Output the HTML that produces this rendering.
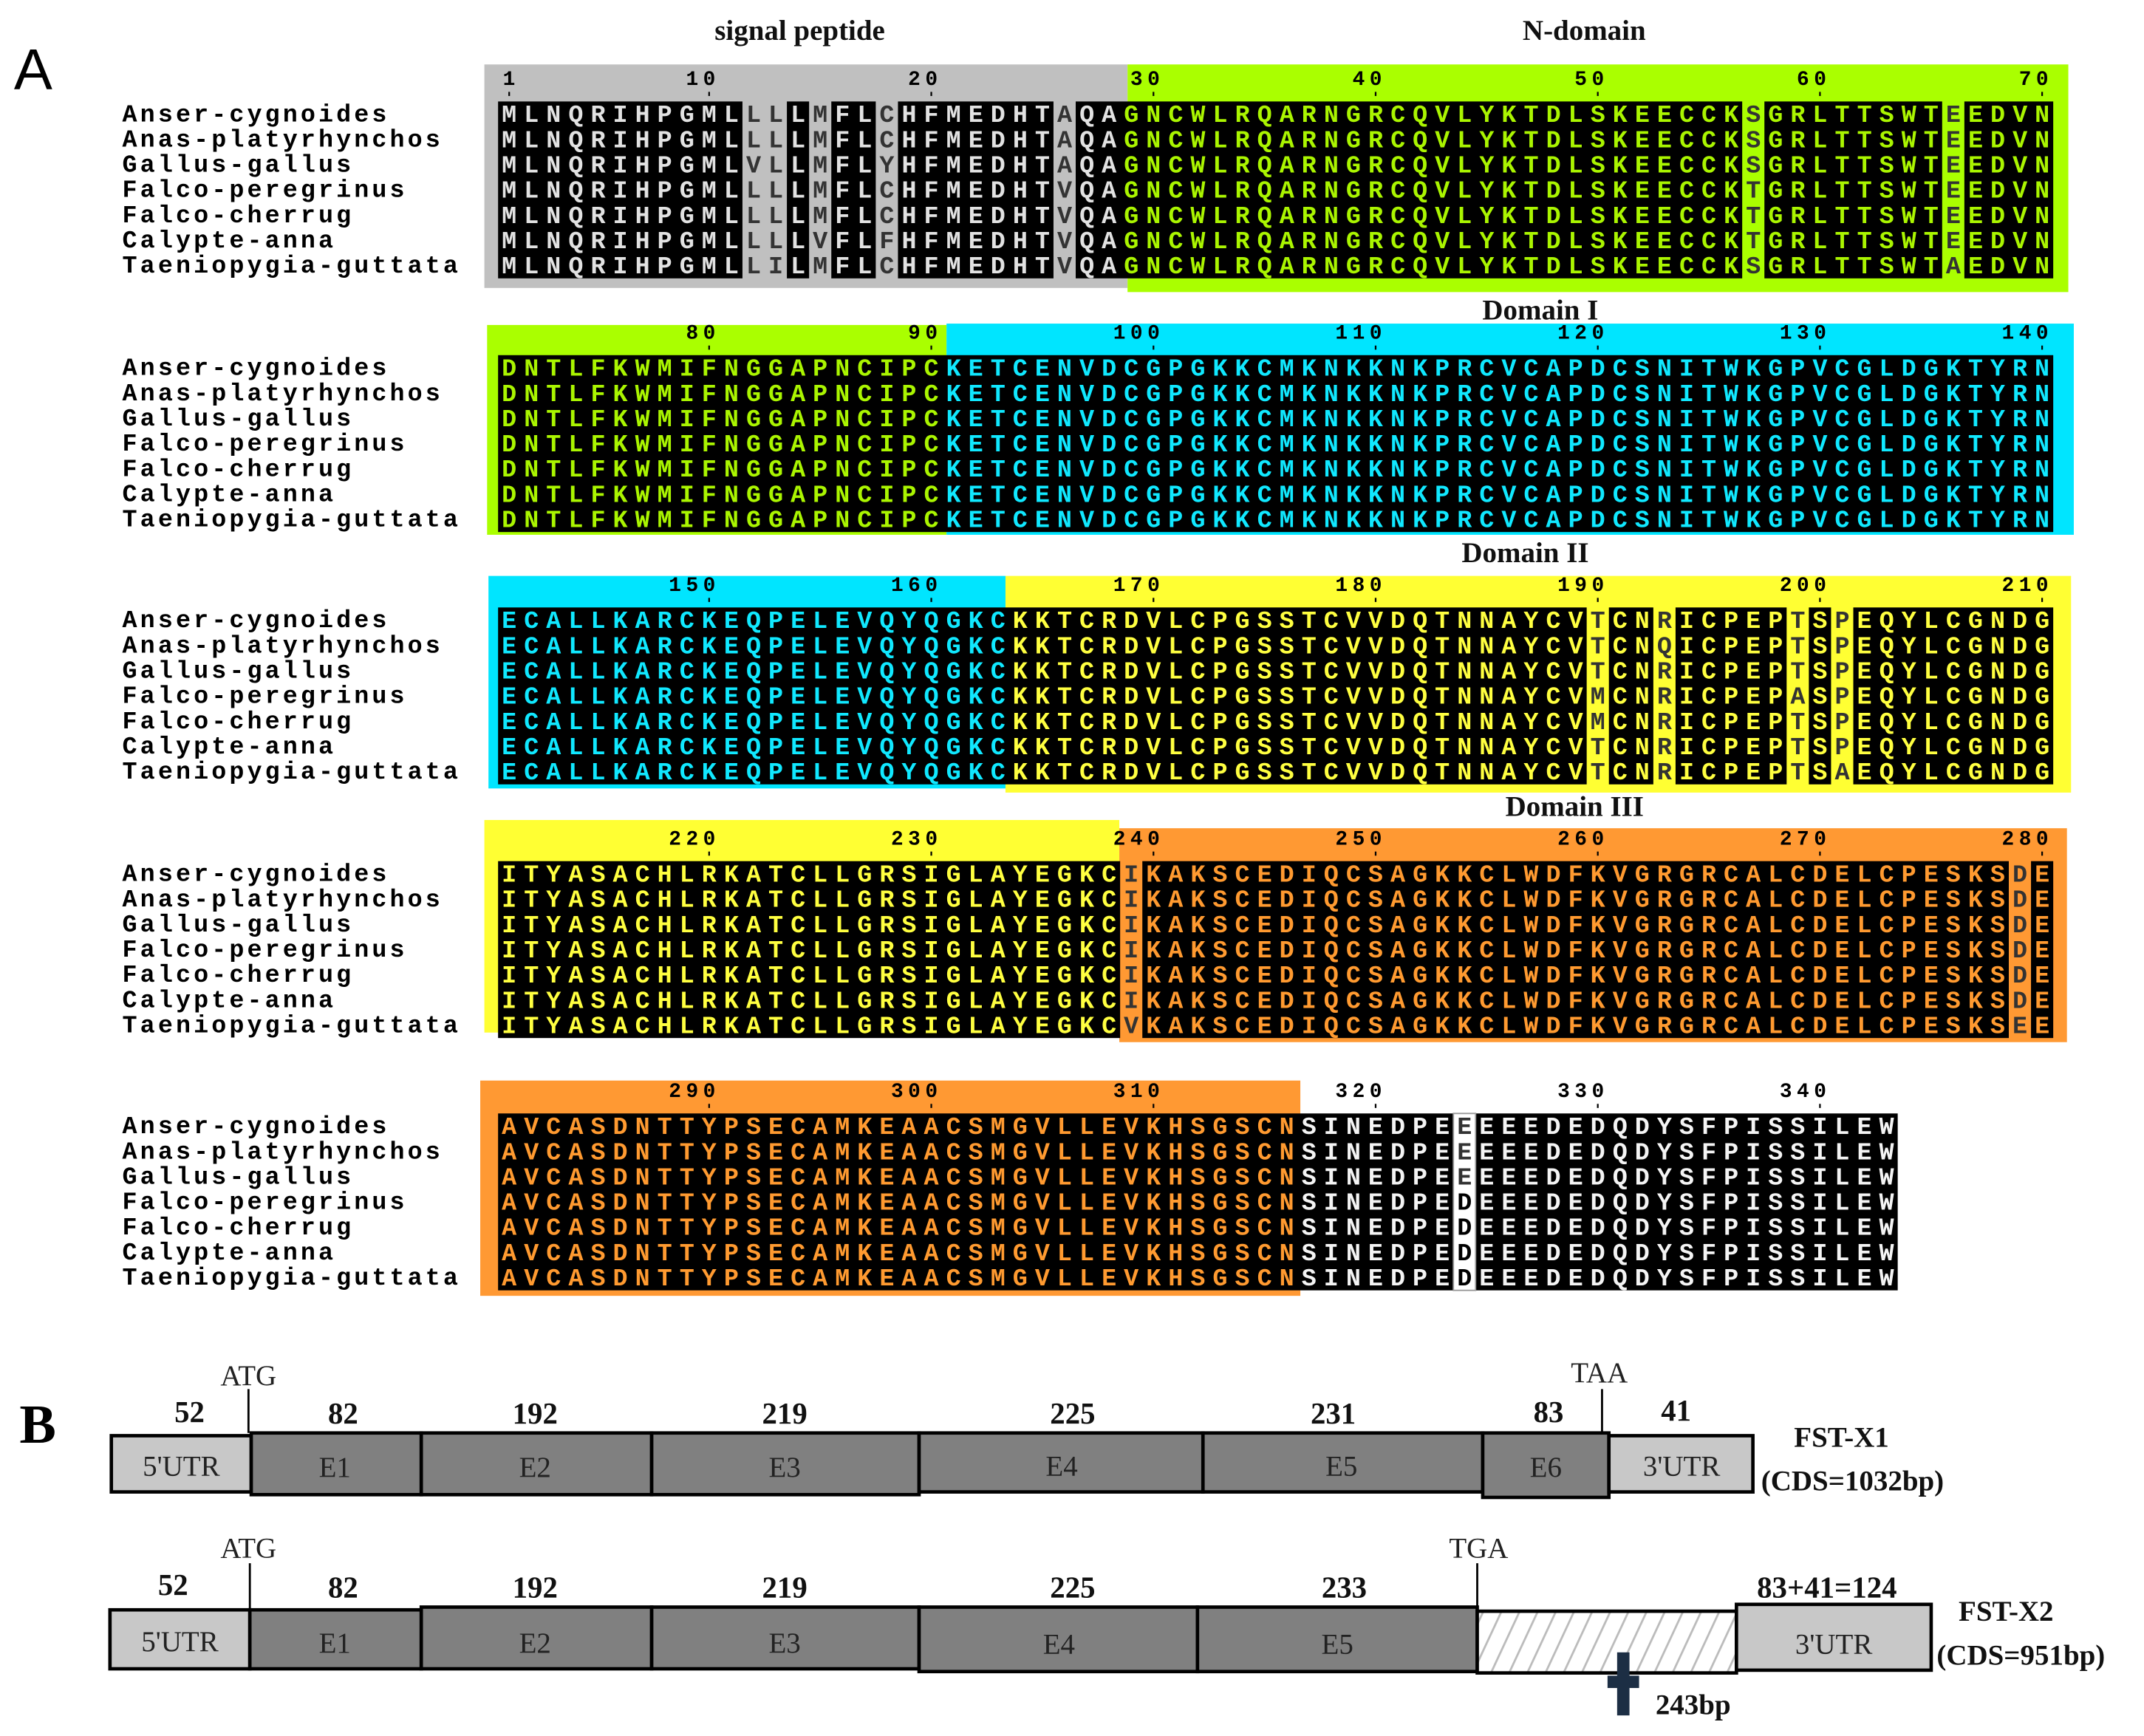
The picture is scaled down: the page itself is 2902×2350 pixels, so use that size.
<!DOCTYPE html>
<html><head><meta charset="utf-8">
<style>
html,body{margin:0;padding:0;background:#fff;}
svg{display:block;}
.seq{font-family:"Liberation Mono",monospace;font-weight:bold;font-size:18px;letter-spacing:5.4px;}
.nm{font-family:"Liberation Mono",monospace;font-weight:bold;font-size:18px;letter-spacing:2.2px;fill:#000;}
.num{font-family:"Liberation Mono",monospace;font-weight:bold;font-size:15px;letter-spacing:3.5px;fill:#000;text-anchor:end;}
.dl{font-family:"Liberation Serif",serif;font-weight:bold;font-size:21px;fill:#111;text-anchor:middle;}
.g{fill:#e2e2e2}.n{fill:#aaf500}.c{fill:#10e8ff}.y{fill:#ffff40}.o{fill:#ff9a30}.w{fill:#f4f4f4}.v{fill:#333}
.bl{font-family:"Liberation Serif",serif;font-weight:bold;font-size:22px;fill:#111;text-anchor:middle;}
.sl{font-family:"Liberation Serif",serif;font-size:21px;fill:#222;text-anchor:middle;}
.fl{font-family:"Liberation Serif",serif;font-weight:bold;font-size:21px;fill:#111;}
</style></head><body>
<svg width="2902" height="2350" viewBox="0 0 1563 1266" xmlns="http://www.w3.org/2000/svg">
<defs>
<pattern id="hatch" width="12" height="12" patternUnits="userSpaceOnUse" patternTransform="rotate(25)">
<rect width="12" height="12" fill="#fff"/><line x1="0" y1="0" x2="0" y2="12" stroke="#bbb" stroke-width="3"/>
</pattern>
<g id="names">
<text class="nm" x="89" y="0">Anser-cygnoides</text>
<text class="nm" x="89" y="18.4">Anas-platyrhynchos</text>
<text class="nm" x="89" y="36.8">Gallus-gallus</text>
<text class="nm" x="89" y="55.2">Falco-peregrinus</text>
<text class="nm" x="89" y="73.6">Falco-cherrug</text>
<text class="nm" x="89" y="92">Calypte-anna</text>
<text class="nm" x="89" y="110.4">Taeniopygia-guttata</text>
</g>
</defs>

<text x="10" y="65" font-family="Liberation Sans,sans-serif" font-size="42" fill="#000">A</text>

<text class="dl" x="583" y="29">signal peptide</text>
<text class="dl" x="1155" y="29">N-domain</text>
<text class="dl" x="1123" y="233">Domain I</text>
<text class="dl" x="1112" y="410">Domain II</text>
<text class="dl" x="1148" y="595">Domain III</text>

<!-- BLOCK 1 -->
<rect x="353" y="47" width="469" height="163" fill="#c0c0c0"/>
<rect x="822" y="47" width="686" height="166" fill="#aaff00"/>
<g fill="#000">
<rect x="363" y="74" width="178.2" height="129"/>
<rect x="573.6" y="74" width="16.2" height="129"/>
<rect x="606" y="74" width="32.4" height="129"/>
<rect x="654.6" y="74" width="113.4" height="129"/>
<rect x="784.2" y="74" width="486" height="129"/>
<rect x="1286.4" y="74" width="129.6" height="129"/>
<rect x="1432.2" y="74" width="64.8" height="129"/>
</g>
<text class="num" x="379" y="62">1</text>
<text class="num" x="525" y="62">10</text>
<text class="num" x="687" y="62">20</text>
<text class="num" x="849" y="62">30</text>
<text class="num" x="1011" y="62">40</text>
<text class="num" x="1173" y="62">50</text>
<text class="num" x="1335" y="62">60</text>
<text class="num" x="1497" y="62">70</text>
<g stroke="#000" stroke-width="1.2">
<line x1="371.1" y1="67" x2="371.1" y2="70"/><line x1="516.9" y1="67" x2="516.9" y2="70"/><line x1="678.9" y1="67" x2="678.9" y2="70"/><line x1="840.9" y1="67" x2="840.9" y2="70"/><line x1="1002.9" y1="67" x2="1002.9" y2="70"/><line x1="1164.9" y1="67" x2="1164.9" y2="70"/><line x1="1326.9" y1="67" x2="1326.9" y2="70"/><line x1="1488.9" y1="67" x2="1488.9" y2="70"/>
</g>
<use href="#names" transform="translate(0,88.5)"/>
<text class="seq" x="365.7" y="89"><tspan class="g">MLNQRIHPGML</tspan><tspan class="v">LL</tspan><tspan class="g">L</tspan><tspan class="v">M</tspan><tspan class="g">FL</tspan><tspan class="v">C</tspan><tspan class="g">HFMEDHT</tspan><tspan class="v">A</tspan><tspan class="g">QA</tspan><tspan class="n">GNCWLRQARNGRCQVLYKTDLSKEECCK</tspan><tspan class="v">S</tspan><tspan class="n">GRLTTSWT</tspan><tspan class="v">E</tspan><tspan class="n">EDVN</tspan></text>
<text class="seq" x="365.7" y="107.4"><tspan class="g">MLNQRIHPGML</tspan><tspan class="v">LL</tspan><tspan class="g">L</tspan><tspan class="v">M</tspan><tspan class="g">FL</tspan><tspan class="v">C</tspan><tspan class="g">HFMEDHT</tspan><tspan class="v">A</tspan><tspan class="g">QA</tspan><tspan class="n">GNCWLRQARNGRCQVLYKTDLSKEECCK</tspan><tspan class="v">S</tspan><tspan class="n">GRLTTSWT</tspan><tspan class="v">E</tspan><tspan class="n">EDVN</tspan></text>
<text class="seq" x="365.7" y="125.8"><tspan class="g">MLNQRIHPGML</tspan><tspan class="v">VL</tspan><tspan class="g">L</tspan><tspan class="v">M</tspan><tspan class="g">FL</tspan><tspan class="v">Y</tspan><tspan class="g">HFMEDHT</tspan><tspan class="v">A</tspan><tspan class="g">QA</tspan><tspan class="n">GNCWLRQARNGRCQVLYKTDLSKEECCK</tspan><tspan class="v">S</tspan><tspan class="n">GRLTTSWT</tspan><tspan class="v">E</tspan><tspan class="n">EDVN</tspan></text>
<text class="seq" x="365.7" y="144.2"><tspan class="g">MLNQRIHPGML</tspan><tspan class="v">LL</tspan><tspan class="g">L</tspan><tspan class="v">M</tspan><tspan class="g">FL</tspan><tspan class="v">C</tspan><tspan class="g">HFMEDHT</tspan><tspan class="v">V</tspan><tspan class="g">QA</tspan><tspan class="n">GNCWLRQARNGRCQVLYKTDLSKEECCK</tspan><tspan class="v">T</tspan><tspan class="n">GRLTTSWT</tspan><tspan class="v">E</tspan><tspan class="n">EDVN</tspan></text>
<text class="seq" x="365.7" y="162.6"><tspan class="g">MLNQRIHPGML</tspan><tspan class="v">LL</tspan><tspan class="g">L</tspan><tspan class="v">M</tspan><tspan class="g">FL</tspan><tspan class="v">C</tspan><tspan class="g">HFMEDHT</tspan><tspan class="v">V</tspan><tspan class="g">QA</tspan><tspan class="n">GNCWLRQARNGRCQVLYKTDLSKEECCK</tspan><tspan class="v">T</tspan><tspan class="n">GRLTTSWT</tspan><tspan class="v">E</tspan><tspan class="n">EDVN</tspan></text>
<text class="seq" x="365.7" y="181"><tspan class="g">MLNQRIHPGML</tspan><tspan class="v">LL</tspan><tspan class="g">L</tspan><tspan class="v">V</tspan><tspan class="g">FL</tspan><tspan class="v">F</tspan><tspan class="g">HFMEDHT</tspan><tspan class="v">V</tspan><tspan class="g">QA</tspan><tspan class="n">GNCWLRQARNGRCQVLYKTDLSKEECCK</tspan><tspan class="v">T</tspan><tspan class="n">GRLTTSWT</tspan><tspan class="v">E</tspan><tspan class="n">EDVN</tspan></text>
<text class="seq" x="365.7" y="199.4"><tspan class="g">MLNQRIHPGML</tspan><tspan class="v">LI</tspan><tspan class="g">L</tspan><tspan class="v">M</tspan><tspan class="g">FL</tspan><tspan class="v">C</tspan><tspan class="g">HFMEDHT</tspan><tspan class="v">V</tspan><tspan class="g">QA</tspan><tspan class="n">GNCWLRQARNGRCQVLYKTDLSKEECCK</tspan><tspan class="v">S</tspan><tspan class="n">GRLTTSWT</tspan><tspan class="v">A</tspan><tspan class="n">EDVN</tspan></text>

<!-- BLOCK 2 -->
<rect x="355" y="237" width="335" height="153" fill="#aaff00"/>
<rect x="690" y="236" width="822" height="154" fill="#00e5ff"/>
<rect x="363" y="259" width="1134" height="129" fill="#000"/>
<text class="num" x="525" y="247">80</text>
<text class="num" x="687" y="247">90</text>
<text class="num" x="849" y="247">100</text>
<text class="num" x="1011" y="247">110</text>
<text class="num" x="1173" y="247">120</text>
<text class="num" x="1335" y="247">130</text>
<text class="num" x="1497" y="247">140</text>
<g stroke="#000" stroke-width="1.2">
<line x1="516.9" y1="252" x2="516.9" y2="255"/><line x1="678.9" y1="252" x2="678.9" y2="255"/><line x1="840.9" y1="252" x2="840.9" y2="255"/><line x1="1002.9" y1="252" x2="1002.9" y2="255"/><line x1="1164.9" y1="252" x2="1164.9" y2="255"/><line x1="1326.9" y1="252" x2="1326.9" y2="255"/><line x1="1488.9" y1="252" x2="1488.9" y2="255"/>
</g>
<use href="#names" transform="translate(0,273.5)"/>
<text class="seq" x="365.7" y="274"><tspan class="n">DNTLFKWMIFNGGAPNCIPC</tspan><tspan class="c">KETCENVDCGPGKKCMKNKKNKPRCVCAPDCSNITWKGPVCGLDGKTYRN</tspan></text>
<text class="seq" x="365.7" y="292.4"><tspan class="n">DNTLFKWMIFNGGAPNCIPC</tspan><tspan class="c">KETCENVDCGPGKKCMKNKKNKPRCVCAPDCSNITWKGPVCGLDGKTYRN</tspan></text>
<text class="seq" x="365.7" y="310.8"><tspan class="n">DNTLFKWMIFNGGAPNCIPC</tspan><tspan class="c">KETCENVDCGPGKKCMKNKKNKPRCVCAPDCSNITWKGPVCGLDGKTYRN</tspan></text>
<text class="seq" x="365.7" y="329.2"><tspan class="n">DNTLFKWMIFNGGAPNCIPC</tspan><tspan class="c">KETCENVDCGPGKKCMKNKKNKPRCVCAPDCSNITWKGPVCGLDGKTYRN</tspan></text>
<text class="seq" x="365.7" y="347.6"><tspan class="n">DNTLFKWMIFNGGAPNCIPC</tspan><tspan class="c">KETCENVDCGPGKKCMKNKKNKPRCVCAPDCSNITWKGPVCGLDGKTYRN</tspan></text>
<text class="seq" x="365.7" y="366"><tspan class="n">DNTLFKWMIFNGGAPNCIPC</tspan><tspan class="c">KETCENVDCGPGKKCMKNKKNKPRCVCAPDCSNITWKGPVCGLDGKTYRN</tspan></text>
<text class="seq" x="365.7" y="384.4"><tspan class="n">DNTLFKWMIFNGGAPNCIPC</tspan><tspan class="c">KETCENVDCGPGKKCMKNKKNKPRCVCAPDCSNITWKGPVCGLDGKTYRN</tspan></text>

<!-- BLOCK 3 -->
<rect x="356" y="420" width="377" height="155" fill="#00e5ff"/>
<rect x="733" y="420" width="777" height="158" fill="#ffff33"/>
<g fill="#000">
<rect x="363" y="443" width="793.8" height="129"/>
<rect x="1173" y="443" width="32.4" height="129"/>
<rect x="1221.6" y="443" width="81" height="129"/>
<rect x="1318.8" y="443" width="16.2" height="129"/>
<rect x="1351.2" y="443" width="145.8" height="129"/>
</g>
<text class="num" x="525" y="431">150</text>
<text class="num" x="687" y="431">160</text>
<text class="num" x="849" y="431">170</text>
<text class="num" x="1011" y="431">180</text>
<text class="num" x="1173" y="431">190</text>
<text class="num" x="1335" y="431">200</text>
<text class="num" x="1497" y="431">210</text>
<g stroke="#000" stroke-width="1.2">
<line x1="516.9" y1="436" x2="516.9" y2="439"/><line x1="678.9" y1="436" x2="678.9" y2="439"/><line x1="840.9" y1="436" x2="840.9" y2="439"/><line x1="1002.9" y1="436" x2="1002.9" y2="439"/><line x1="1164.9" y1="436" x2="1164.9" y2="439"/><line x1="1326.9" y1="436" x2="1326.9" y2="439"/><line x1="1488.9" y1="436" x2="1488.9" y2="439"/>
</g>
<use href="#names" transform="translate(0,457.5)"/>
<text class="seq" x="365.7" y="458"><tspan class="c">ECALLKARCKEQPELEVQYQGKC</tspan><tspan class="y">KKTCRDVLCPGSSTCVVDQTNNAYCV</tspan><tspan class="v">T</tspan><tspan class="y">CN</tspan><tspan class="v">R</tspan><tspan class="y">ICPEP</tspan><tspan class="v">T</tspan><tspan class="y">S</tspan><tspan class="v">P</tspan><tspan class="y">EQYLCGNDG</tspan></text>
<text class="seq" x="365.7" y="476.4"><tspan class="c">ECALLKARCKEQPELEVQYQGKC</tspan><tspan class="y">KKTCRDVLCPGSSTCVVDQTNNAYCV</tspan><tspan class="v">T</tspan><tspan class="y">CN</tspan><tspan class="v">Q</tspan><tspan class="y">ICPEP</tspan><tspan class="v">T</tspan><tspan class="y">S</tspan><tspan class="v">P</tspan><tspan class="y">EQYLCGNDG</tspan></text>
<text class="seq" x="365.7" y="494.8"><tspan class="c">ECALLKARCKEQPELEVQYQGKC</tspan><tspan class="y">KKTCRDVLCPGSSTCVVDQTNNAYCV</tspan><tspan class="v">T</tspan><tspan class="y">CN</tspan><tspan class="v">R</tspan><tspan class="y">ICPEP</tspan><tspan class="v">T</tspan><tspan class="y">S</tspan><tspan class="v">P</tspan><tspan class="y">EQYLCGNDG</tspan></text>
<text class="seq" x="365.7" y="513.2"><tspan class="c">ECALLKARCKEQPELEVQYQGKC</tspan><tspan class="y">KKTCRDVLCPGSSTCVVDQTNNAYCV</tspan><tspan class="v">M</tspan><tspan class="y">CN</tspan><tspan class="v">R</tspan><tspan class="y">ICPEP</tspan><tspan class="v">A</tspan><tspan class="y">S</tspan><tspan class="v">P</tspan><tspan class="y">EQYLCGNDG</tspan></text>
<text class="seq" x="365.7" y="531.6"><tspan class="c">ECALLKARCKEQPELEVQYQGKC</tspan><tspan class="y">KKTCRDVLCPGSSTCVVDQTNNAYCV</tspan><tspan class="v">M</tspan><tspan class="y">CN</tspan><tspan class="v">R</tspan><tspan class="y">ICPEP</tspan><tspan class="v">T</tspan><tspan class="y">S</tspan><tspan class="v">P</tspan><tspan class="y">EQYLCGNDG</tspan></text>
<text class="seq" x="365.7" y="550"><tspan class="c">ECALLKARCKEQPELEVQYQGKC</tspan><tspan class="y">KKTCRDVLCPGSSTCVVDQTNNAYCV</tspan><tspan class="v">T</tspan><tspan class="y">CN</tspan><tspan class="v">R</tspan><tspan class="y">ICPEP</tspan><tspan class="v">T</tspan><tspan class="y">S</tspan><tspan class="v">P</tspan><tspan class="y">EQYLCGNDG</tspan></text>
<text class="seq" x="365.7" y="568.4"><tspan class="c">ECALLKARCKEQPELEVQYQGKC</tspan><tspan class="y">KKTCRDVLCPGSSTCVVDQTNNAYCV</tspan><tspan class="v">T</tspan><tspan class="y">CN</tspan><tspan class="v">R</tspan><tspan class="y">ICPEP</tspan><tspan class="v">T</tspan><tspan class="y">S</tspan><tspan class="v">A</tspan><tspan class="y">EQYLCGNDG</tspan></text>

<!-- BLOCK 4 -->
<rect x="353" y="598" width="463" height="155" fill="#ffff33"/>
<rect x="816" y="604" width="691" height="156" fill="#ff9933"/>
<g fill="#000">
<rect x="363" y="628" width="453.6" height="129"/>
<rect x="832.8" y="628" width="631.8" height="129"/>
<rect x="1480.8" y="628" width="16.2" height="129"/>
</g>
<text class="num" x="525" y="616">220</text>
<text class="num" x="687" y="616">230</text>
<text class="num" x="849" y="616">240</text>
<text class="num" x="1011" y="616">250</text>
<text class="num" x="1173" y="616">260</text>
<text class="num" x="1335" y="616">270</text>
<text class="num" x="1497" y="616">280</text>
<g stroke="#000" stroke-width="1.2">
<line x1="516.9" y1="621" x2="516.9" y2="624"/><line x1="678.9" y1="621" x2="678.9" y2="624"/><line x1="840.9" y1="621" x2="840.9" y2="624"/><line x1="1002.9" y1="621" x2="1002.9" y2="624"/><line x1="1164.9" y1="621" x2="1164.9" y2="624"/><line x1="1326.9" y1="621" x2="1326.9" y2="624"/><line x1="1488.9" y1="621" x2="1488.9" y2="624"/>
</g>
<use href="#names" transform="translate(0,642.5)"/>
<text class="seq" x="365.7" y="643"><tspan class="y">ITYASACHLRKATCLLGRSIGLAYEGKC</tspan><tspan class="v">I</tspan><tspan class="o">KAKSCEDIQCSAGKKCLWDFKVGRGRCALCDELCPESKS</tspan><tspan class="v">D</tspan><tspan class="o">E</tspan></text>
<text class="seq" x="365.7" y="661.4"><tspan class="y">ITYASACHLRKATCLLGRSIGLAYEGKC</tspan><tspan class="v">I</tspan><tspan class="o">KAKSCEDIQCSAGKKCLWDFKVGRGRCALCDELCPESKS</tspan><tspan class="v">D</tspan><tspan class="o">E</tspan></text>
<text class="seq" x="365.7" y="679.8"><tspan class="y">ITYASACHLRKATCLLGRSIGLAYEGKC</tspan><tspan class="v">I</tspan><tspan class="o">KAKSCEDIQCSAGKKCLWDFKVGRGRCALCDELCPESKS</tspan><tspan class="v">D</tspan><tspan class="o">E</tspan></text>
<text class="seq" x="365.7" y="698.2"><tspan class="y">ITYASACHLRKATCLLGRSIGLAYEGKC</tspan><tspan class="v">I</tspan><tspan class="o">KAKSCEDIQCSAGKKCLWDFKVGRGRCALCDELCPESKS</tspan><tspan class="v">D</tspan><tspan class="o">E</tspan></text>
<text class="seq" x="365.7" y="716.6"><tspan class="y">ITYASACHLRKATCLLGRSIGLAYEGKC</tspan><tspan class="v">I</tspan><tspan class="o">KAKSCEDIQCSAGKKCLWDFKVGRGRCALCDELCPESKS</tspan><tspan class="v">D</tspan><tspan class="o">E</tspan></text>
<text class="seq" x="365.7" y="735"><tspan class="y">ITYASACHLRKATCLLGRSIGLAYEGKC</tspan><tspan class="v">I</tspan><tspan class="o">KAKSCEDIQCSAGKKCLWDFKVGRGRCALCDELCPESKS</tspan><tspan class="v">D</tspan><tspan class="o">E</tspan></text>
<text class="seq" x="365.7" y="753.4"><tspan class="y">ITYASACHLRKATCLLGRSIGLAYEGKC</tspan><tspan class="v">V</tspan><tspan class="o">KAKSCEDIQCSAGKKCLWDFKVGRGRCALCDELCPESKS</tspan><tspan class="v">E</tspan><tspan class="o">E</tspan></text>

<!-- BLOCK 5 -->
<rect x="350" y="788" width="598" height="157" fill="#ff9933"/>
<g fill="#000">
<rect x="363" y="812" width="696.6" height="129"/>
<rect x="1075.8" y="812" width="307.8" height="129"/>
</g>
<rect x="1059.6" y="812" width="16.2" height="129" fill="#fff" stroke="#999" stroke-width="1"/>
<text class="num" x="525" y="800">290</text>
<text class="num" x="687" y="800">300</text>
<text class="num" x="849" y="800">310</text>
<text class="num" x="1011" y="800">320</text>
<text class="num" x="1173" y="800">330</text>
<text class="num" x="1335" y="800">340</text>
<g stroke="#000" stroke-width="1.2">
<line x1="516.9" y1="805" x2="516.9" y2="808"/><line x1="678.9" y1="805" x2="678.9" y2="808"/><line x1="840.9" y1="805" x2="840.9" y2="808"/><line x1="1002.9" y1="805" x2="1002.9" y2="808"/><line x1="1164.9" y1="805" x2="1164.9" y2="808"/><line x1="1326.9" y1="805" x2="1326.9" y2="808"/>
</g>
<use href="#names" transform="translate(0,826.5)"/>
<text class="seq" x="365.7" y="827"><tspan class="o">AVCASDNTTYPSECAMKEAACSMGVLLEVKHSGSCN</tspan><tspan class="w">SINEDPE</tspan><tspan class="v">E</tspan><tspan class="w">EEEDEDQDYSFPISSILEW</tspan></text>
<text class="seq" x="365.7" y="845.4"><tspan class="o">AVCASDNTTYPSECAMKEAACSMGVLLEVKHSGSCN</tspan><tspan class="w">SINEDPE</tspan><tspan class="v">E</tspan><tspan class="w">EEEDEDQDYSFPISSILEW</tspan></text>
<text class="seq" x="365.7" y="863.8"><tspan class="o">AVCASDNTTYPSECAMKEAACSMGVLLEVKHSGSCN</tspan><tspan class="w">SINEDPE</tspan><tspan class="v">E</tspan><tspan class="w">EEEDEDQDYSFPISSILEW</tspan></text>
<text class="seq" x="365.7" y="882.2"><tspan class="o">AVCASDNTTYPSECAMKEAACSMGVLLEVKHSGSCN</tspan><tspan class="w">SINEDPE</tspan><tspan fill="#000">D</tspan><tspan class="w">EEEDEDQDYSFPISSILEW</tspan></text>
<text class="seq" x="365.7" y="900.6"><tspan class="o">AVCASDNTTYPSECAMKEAACSMGVLLEVKHSGSCN</tspan><tspan class="w">SINEDPE</tspan><tspan fill="#000">D</tspan><tspan class="w">EEEDEDQDYSFPISSILEW</tspan></text>
<text class="seq" x="365.7" y="919"><tspan class="o">AVCASDNTTYPSECAMKEAACSMGVLLEVKHSGSCN</tspan><tspan class="w">SINEDPE</tspan><tspan fill="#000">D</tspan><tspan class="w">EEEDEDQDYSFPISSILEW</tspan></text>
<text class="seq" x="365.7" y="937.4"><tspan class="o">AVCASDNTTYPSECAMKEAACSMGVLLEVKHSGSCN</tspan><tspan class="w">SINEDPE</tspan><tspan fill="#000">D</tspan><tspan class="w">EEEDEDQDYSFPISSILEW</tspan></text>

<!-- PART B -->
<text x="14" y="1052" font-family="Liberation Serif,serif" font-weight="bold" font-size="40" fill="#000">B</text>

<g stroke="#000" stroke-width="2.5">
<rect x="81" y="1047" width="102" height="41" fill="#c8c8c8"/>
<rect x="183" y="1045" width="124" height="45" fill="#808080"/>
<rect x="307" y="1045" width="168" height="45" fill="#808080"/>
<rect x="475" y="1045" width="195" height="45" fill="#808080"/>
<rect x="670" y="1045" width="207" height="43" fill="#808080"/>
<rect x="877" y="1045" width="204" height="43" fill="#808080"/>
<rect x="1081" y="1045" width="92" height="47" fill="#808080"/>
<rect x="1173" y="1047" width="105" height="41" fill="#c8c8c8"/>
</g>
<line x1="181" y1="1013" x2="181" y2="1045" stroke="#000" stroke-width="1.5"/>
<line x1="1168" y1="1013" x2="1168" y2="1045" stroke="#000" stroke-width="1.5"/>
<text class="sl" x="181" y="1010">ATG</text>
<text class="sl" x="1166" y="1008">TAA</text>
<text class="bl" x="138" y="1037">52</text>
<text class="bl" x="250" y="1038">82</text>
<text class="bl" x="390" y="1038">192</text>
<text class="bl" x="572" y="1038">219</text>
<text class="bl" x="782" y="1038">225</text>
<text class="bl" x="972" y="1038">231</text>
<text class="bl" x="1129" y="1037">83</text>
<text class="bl" x="1222" y="1036">41</text>
<text class="sl" x="132" y="1076">5'UTR</text>
<text class="sl" x="244" y="1077">E1</text>
<text class="sl" x="390" y="1077">E2</text>
<text class="sl" x="572" y="1077">E3</text>
<text class="sl" x="774" y="1076">E4</text>
<text class="sl" x="978" y="1076">E5</text>
<text class="sl" x="1127" y="1077">E6</text>
<text class="sl" x="1226" y="1076">3'UTR</text>
<text class="fl" x="1308" y="1055">FST-X1</text>
<text class="fl" x="1284" y="1087">(CDS=1032bp)</text>

<g stroke="#000" stroke-width="2.5">
<rect x="80" y="1174" width="102" height="43" fill="#c8c8c8"/>
<rect x="182" y="1174" width="125" height="43" fill="#808080"/>
<rect x="307" y="1172" width="168" height="45" fill="#808080"/>
<rect x="475" y="1172" width="195" height="45" fill="#808080"/>
<rect x="670" y="1172" width="203" height="47" fill="#808080"/>
<rect x="873" y="1172" width="204" height="47" fill="#808080"/>
<rect x="1077" y="1175" width="189" height="45" fill="url(#hatch)"/>
<rect x="1266" y="1170" width="142" height="48" fill="#c8c8c8"/>
</g>
<line x1="182" y1="1140" x2="182" y2="1174" stroke="#000" stroke-width="1.5"/>
<line x1="1077" y1="1140" x2="1077" y2="1175" stroke="#000" stroke-width="1.5"/>
<text class="sl" x="181" y="1136">ATG</text>
<text class="sl" x="1078" y="1136">TGA</text>
<text class="bl" x="126" y="1163">52</text>
<text class="bl" x="250" y="1165">82</text>
<text class="bl" x="390" y="1165">192</text>
<text class="bl" x="572" y="1165">219</text>
<text class="bl" x="782" y="1165">225</text>
<text class="bl" x="980" y="1165">233</text>
<text class="bl" x="1332" y="1165">83+41=124</text>
<text class="sl" x="131" y="1204">5'UTR</text>
<text class="sl" x="244" y="1205">E1</text>
<text class="sl" x="390" y="1205">E2</text>
<text class="sl" x="572" y="1205">E3</text>
<text class="sl" x="772" y="1206">E4</text>
<text class="sl" x="975" y="1206">E5</text>
<text class="sl" x="1337" y="1206">3'UTR</text>
<text class="fl" x="1428" y="1182">FST-X2</text>
<text class="fl" x="1412" y="1214">(CDS=951bp)</text>
<rect x="1179" y="1205" width="9" height="46" fill="#1c2e44"/>
<rect x="1172" y="1222" width="23" height="9" fill="#1c2e44"/>
<text class="fl" x="1207" y="1250">243bp</text>
</svg>
</body></html>
